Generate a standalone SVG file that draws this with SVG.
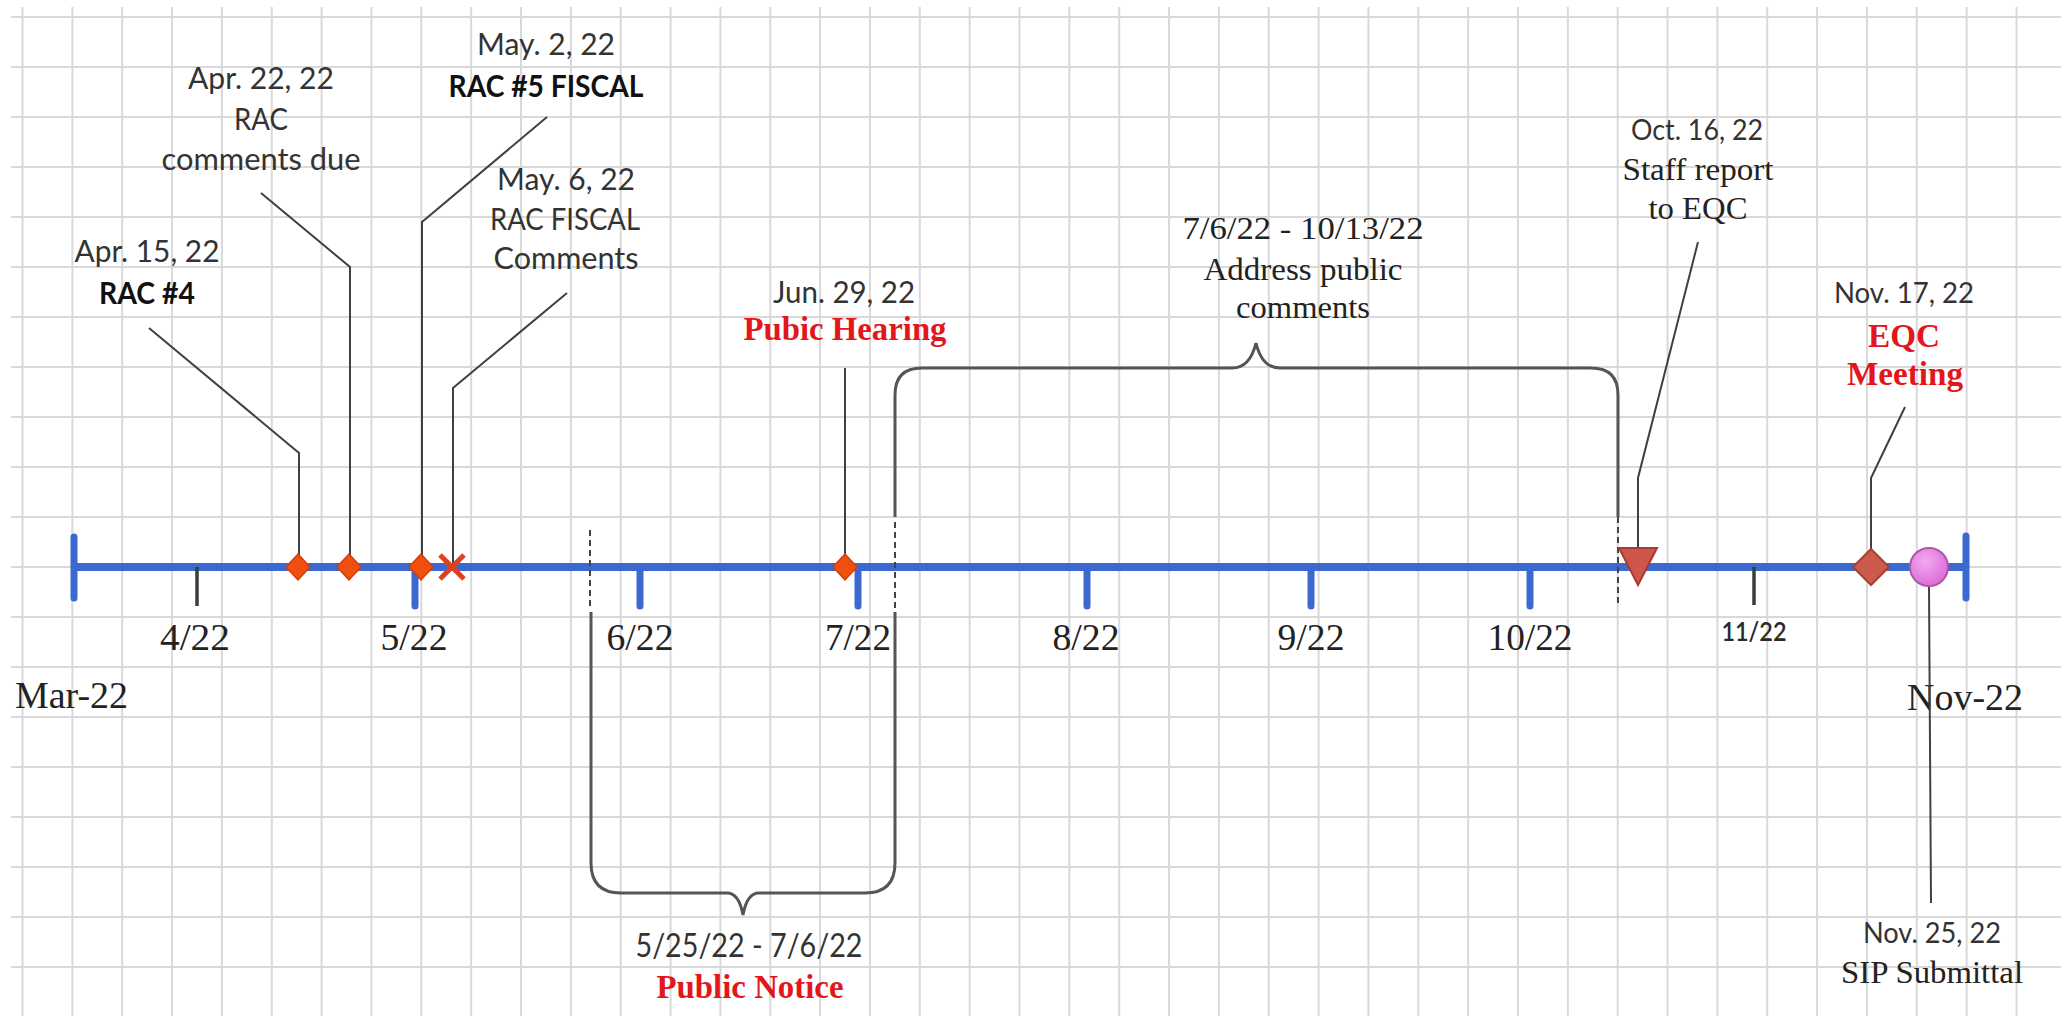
<svg xmlns="http://www.w3.org/2000/svg" width="2061" height="1016" viewBox="0 0 2061 1016">
<defs>
<style>
.grid{stroke:#d9d9d9;stroke-width:2;fill:none}
.axis{stroke:#3b69cf;stroke-width:8;fill:none}
.cap{stroke:#3b69cf;stroke-width:7;stroke-linecap:round;fill:none}
.btick{stroke:#3b69cf;stroke-width:7;stroke-linecap:round;fill:none}
.ktick{stroke:#3c3c3c;stroke-width:3.5;fill:none}
.lead{stroke:#404040;stroke-width:2;fill:none}
.brace{stroke:#555;stroke-width:3;fill:none}
.dash{stroke:#444;stroke-width:2;stroke-dasharray:6 4;fill:none}
.dia{fill:#f0500f;stroke:#cf3f0a;stroke-width:1.5}
.sans{font-family:Lato,"Liberation Sans",sans-serif;font-size:30px;fill:#333;text-anchor:middle}
.sansb{font-family:Lato,"Liberation Sans",sans-serif;font-size:30px;font-weight:bold;fill:#111;text-anchor:middle}
.ser{font-family:"Liberation Serif","Times New Roman",serif;font-size:32px;fill:#222;text-anchor:middle}
.red{font-family:"Liberation Serif","Times New Roman",serif;font-size:33px;font-weight:bold;fill:#e3161b;text-anchor:middle}
.mon{font-family:"Liberation Serif","Times New Roman",serif;font-size:38px;fill:#222;text-anchor:middle}
</style>
<radialGradient id="pink" cx="0.4" cy="0.35" r="0.7">
<stop offset="0" stop-color="#f3a8f1"/>
<stop offset="1" stop-color="#dc6ad9"/>
</radialGradient>
</defs>
<rect x="0" y="0" width="2061" height="1016" fill="#ffffff"/>
<g id="grid">
<path class="grid" d="M11,17H2061M11,67H2061M11,117H2061M11,167H2061M11,217H2061M11,267H2061M11,317H2061M11,367H2061M11,417H2061M11,467H2061M11,517H2061M11,567H2061M11,617H2061M11,667H2061M11,717H2061M11,767H2061M11,817H2061M11,867H2061M11,917H2061M11,967H2061"/>
<path class="grid" d="M22.5,7V1016M72.35,7V1016M122.2,7V1016M172.05,7V1016M221.9,7V1016M271.75,7V1016M321.6,7V1016M371.45,7V1016M421.3,7V1016M471.15,7V1016M521,7V1016M570.85,7V1016M620.7,7V1016M670.55,7V1016M720.4,7V1016M770.25,7V1016M820.1,7V1016M869.95,7V1016M919.8,7V1016M969.65,7V1016M1019.5,7V1016M1069.35,7V1016M1119.2,7V1016M1169.05,7V1016M1218.9,7V1016M1268.75,7V1016M1318.6,7V1016M1368.45,7V1016M1418.3,7V1016M1468.15,7V1016M1518,7V1016M1567.85,7V1016M1617.7,7V1016M1667.55,7V1016M1717.4,7V1016M1767.25,7V1016M1817.1,7V1016M1866.95,7V1016M1916.8,7V1016M1966.65,7V1016M2016.5,7V1016"/>
</g>
<g id="timeline">
<line class="axis" x1="74" y1="567" x2="1966" y2="567"/>
<line class="cap" x1="74" y1="537" x2="74" y2="598"/>
<line class="cap" x1="1966" y1="536" x2="1966" y2="598"/>
<path class="btick" d="M415,567V606M640,567V606M858,567V606M1087,567V606M1311,567V606M1530,567V606"/>
<path class="ktick" d="M197,567V606M1754,567V605"/>
<text class="mon" x="195" y="650" textLength="70" lengthAdjust="spacingAndGlyphs">4/22</text>
<text class="mon" x="414" y="650" textLength="67" lengthAdjust="spacingAndGlyphs">5/22</text>
<text class="mon" x="640" y="650" textLength="67" lengthAdjust="spacingAndGlyphs">6/22</text>
<text class="mon" x="858" y="650" textLength="66" lengthAdjust="spacingAndGlyphs">7/22</text>
<text class="mon" x="1086" y="650" textLength="67" lengthAdjust="spacingAndGlyphs">8/22</text>
<text class="mon" x="1311" y="650" textLength="67" lengthAdjust="spacingAndGlyphs">9/22</text>
<text class="mon" x="1530" y="650" textLength="85" lengthAdjust="spacingAndGlyphs">10/22</text>
<text class="sans" x="1754" y="641" style="font-size:26px;font-weight:600;fill:#2a2a2a" textLength="65" lengthAdjust="spacingAndGlyphs">11/22</text>
<text class="mon" x="15" y="708" style="text-anchor:start;font-size:37px" textLength="113" lengthAdjust="spacingAndGlyphs">Mar-22</text>
<text class="mon" x="1965" y="710" style="font-size:37px" textLength="116" lengthAdjust="spacingAndGlyphs">Nov-22</text>
</g>
<g id="connectors">
<path class="lead" d="M149,328L299,453V567"/>
<path class="lead" d="M261,193L350,267V567"/>
<path class="lead" d="M547,117L422,222V567"/>
<path class="lead" d="M567,293L453,388V567"/>
<path class="lead" d="M845,368V567"/>
<path class="lead" d="M1698,242L1638,478V548"/>
<path class="lead" d="M1905,407L1871,478V567"/>
<path class="lead" d="M1929,586L1931,903"/>
<path class="dash" d="M590,530V607M895,522V612M1618,517V607"/>
<path class="brace" d="M591,612V863Q591,893 621,893H727Q739,893 743,915Q747,893 759,893H865Q895,893 895,863V612"/>
<path class="brace" d="M895,517V395Q895,368 922,368H1232Q1250,368 1256,343Q1262,368 1280,368H1591Q1618,368 1618,395V517"/>
</g>
<g id="apr15">
<polygon class="dia" points="298,554 310,567 298,580 286,567"/>
<text class="sans" x="147" y="262" textLength="145" lengthAdjust="spacingAndGlyphs">Apr. 15, 22</text>
<text class="sansb" x="147" y="304" textLength="96" lengthAdjust="spacingAndGlyphs">RAC #4</text>
</g>
<g id="apr22">
<polygon class="dia" points="349,554 361,567 349,580 337,567"/>
<text class="sans" x="261" y="89" textLength="146" lengthAdjust="spacingAndGlyphs">Apr. 22, 22</text>
<text class="sans" x="261" y="130" textLength="54" lengthAdjust="spacingAndGlyphs">RAC</text>
<text class="sans" x="261" y="170" textLength="199" lengthAdjust="spacingAndGlyphs">comments due</text>
</g>
<g id="may2">
<polygon class="dia" points="421,554 433,567 421,580 409,567"/>
<text class="sans" x="546" y="55" textLength="138" lengthAdjust="spacingAndGlyphs">May. 2, 22</text>
<text class="sansb" x="546" y="97" textLength="195" lengthAdjust="spacingAndGlyphs">RAC #5 FISCAL</text>
</g>
<g id="may6">
<path d="M440,555L464,579M464,555L440,579" stroke="#e0401c" stroke-width="5" fill="none"/>
<text class="sans" x="566" y="190" textLength="138" lengthAdjust="spacingAndGlyphs">May. 6, 22</text>
<text class="sans" x="565" y="230" textLength="150" lengthAdjust="spacingAndGlyphs">RAC FISCAL</text>
<text class="sans" x="566" y="269" textLength="145" lengthAdjust="spacingAndGlyphs">Comments</text>
</g>
<g id="jun29">
<polygon class="dia" points="845,554 857,567 845,580 833,567"/>
<text class="sans" x="844" y="303" textLength="142" lengthAdjust="spacingAndGlyphs">Jun. 29, 22</text>
<text class="red" x="845" y="340" textLength="203" lengthAdjust="spacingAndGlyphs">Pubic Hearing</text>
</g>
<g id="public-notice">
<text class="sans" x="749" y="957" style="font-size:32px" textLength="227" lengthAdjust="spacingAndGlyphs">5/25/22 - 7/6/22</text>
<text class="red" x="750" y="998" textLength="187" lengthAdjust="spacingAndGlyphs">Public Notice</text>
</g>
<g id="address-comments">
<text class="ser" x="1303" y="239" textLength="241" lengthAdjust="spacingAndGlyphs">7/6/22 - 10/13/22</text>
<text class="ser" x="1303" y="280" textLength="199" lengthAdjust="spacingAndGlyphs">Address public</text>
<text class="ser" x="1303" y="318" textLength="134" lengthAdjust="spacingAndGlyphs">comments</text>
</g>
<g id="oct16">
<polygon points="1619,548 1657,548 1638,585" fill="#cd5549" stroke="#a83a2e" stroke-width="2"/>
<text class="sans" x="1697" y="140" style="font-size:28px" textLength="132" lengthAdjust="spacingAndGlyphs">Oct. 16, 22</text>
<text class="ser" x="1698" y="180" textLength="151" lengthAdjust="spacingAndGlyphs">Staff report</text>
<text class="ser" x="1698" y="219" textLength="99" lengthAdjust="spacingAndGlyphs">to EQC</text>
</g>
<g id="nov17">
<polygon points="1871,549 1889,567 1871,585 1853,567" fill="#cc5b4d" stroke="#a8402f" stroke-width="2"/>
<text class="sans" x="1904" y="303" style="font-size:29px" textLength="140" lengthAdjust="spacingAndGlyphs">Nov. 17, 22</text>
<text class="red" x="1904" y="347" textLength="72" lengthAdjust="spacingAndGlyphs">EQC</text>
<text class="red" x="1905" y="385" textLength="116" lengthAdjust="spacingAndGlyphs">Meeting</text>
</g>
<g id="nov25">
<circle cx="1929" cy="567" r="19" fill="url(#pink)" stroke="#a95aa5" stroke-width="2"/>
<text class="sans" x="1932" y="943" style="font-size:29px" textLength="138" lengthAdjust="spacingAndGlyphs">Nov. 25, 22</text>
<text class="ser" x="1932" y="983" textLength="182" lengthAdjust="spacingAndGlyphs">SIP Submittal</text>
</g>
</svg>
